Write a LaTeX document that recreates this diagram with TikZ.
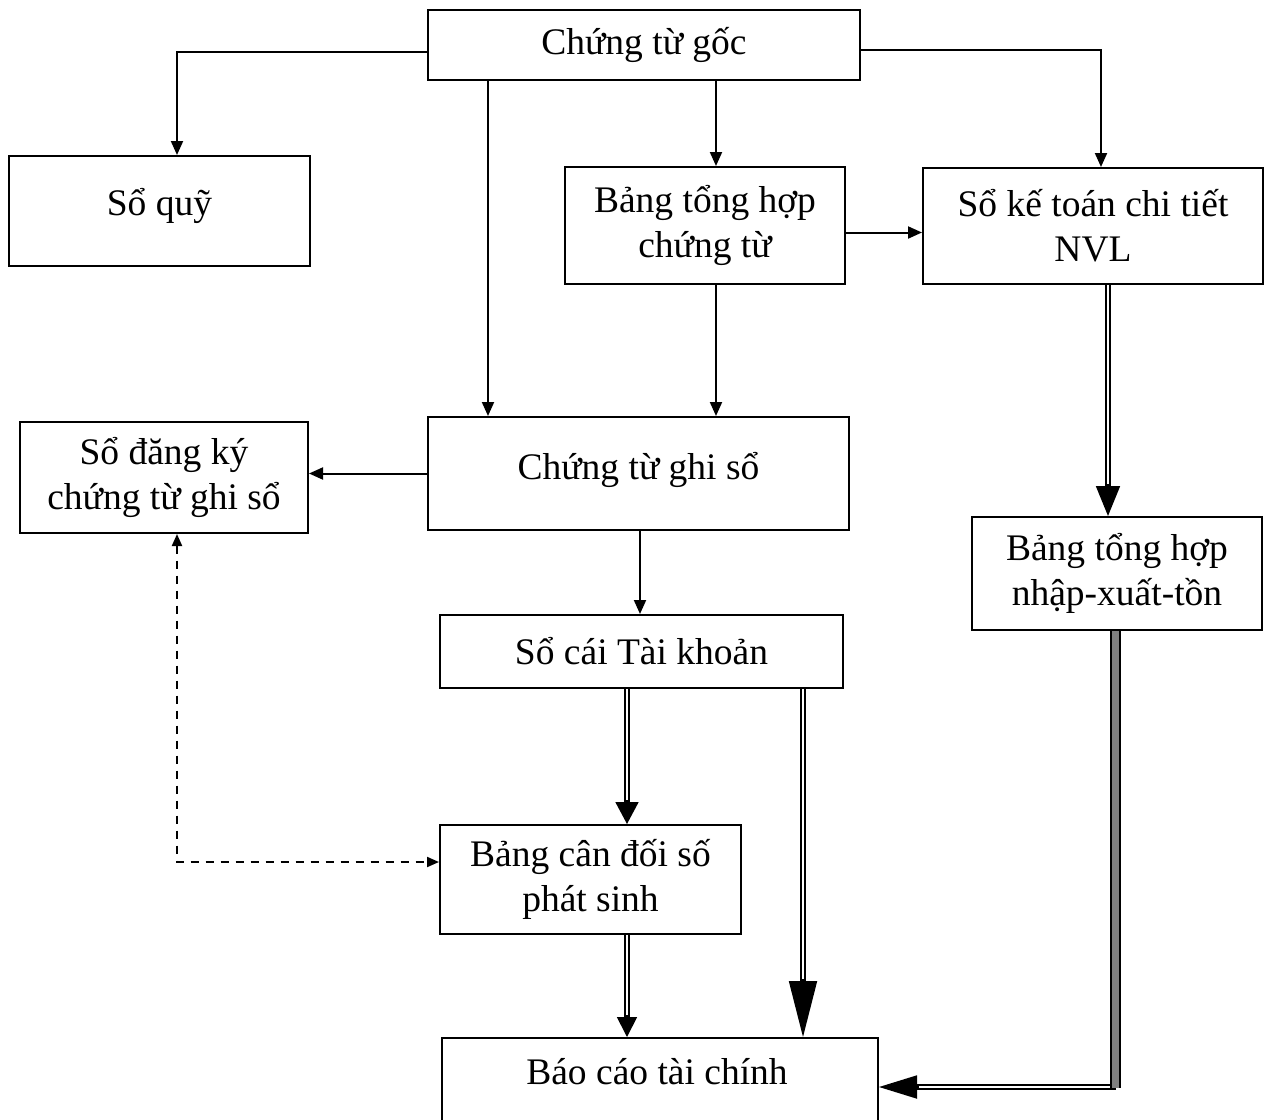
\documentclass[tikz,border=0pt]{standalone}
\usepackage{fontspec}
\setmainfont{Liberation Serif}
\usetikzlibrary{arrows.meta,calc}
\begin{document}
\begin{tikzpicture}[x=0.5pt,y=-0.5pt,
  box/.style={draw,line width=1pt,align=center,inner sep=0pt,
    font=\fontsize{18.75}{22.5}\selectfont},
  sz/.style 2 args={minimum width=#1*0.5pt,minimum height=#2*0.5pt},
  flow/.style={line width=1pt,-{Triangle[length=7pt,width=6pt]}},
  dashflow/.style={line width=1pt,dash pattern=on 4pt off 3.5pt,
    {Triangle[length=6pt,width=5pt]}-{Triangle[length=6pt,width=5pt]}},
  dbl/.style={double,double distance=1.2pt,line width=0.9pt},
  head/.style={line width=0.9pt},
  grayband/.style={line width=1pt,double={rgb,255:red,128;green,128;blue,128},double distance=3.5pt},
]
\useasboundingbox (0,0) rectangle (1271,1120);

% boxes
\node[box,sz={432}{70}]  (goc)   at (644,45)     {Chứng từ gốc};
\node[box,sz={301}{110}] (quy)   at (159.5,211)  {\raisebox{9pt}{Sổ quỹ}};
\node[box,sz={280}{117}] (bth)   at (705,225.5)  {Bảng tổng hợp\\chứng từ};
\node[box,sz={340}{116}] (nvl)   at (1093,226)   {Sổ kế toán chi tiết\\NVL};
\node[box,sz={288}{111}] (dk)    at (164,477.5)  {Sổ đăng ký\\chứng từ ghi sổ};
\node[box,sz={421}{113}] (ghiso) at (638.5,473.5) {\raisebox{8pt}{Chứng từ ghi sổ}};
\node[box,sz={290}{113}] (nxt)   at (1117,573.5) {Bảng tổng hợp\\nhập-xuất-tồn};
\node[box,sz={403}{73}]  (socai) at (641.5,651.5) {Sổ cái Tài khoản};
\node[box,sz={301}{109}] (cdps)  at (590.5,879.5) {Bảng cân đối số\\phát sinh};
\node[box,sz={436}{90}]  (bctc)  at (660,1083)   {};
\node[font=\fontsize{18.75}{22.5}\selectfont,inner sep=0pt] (bctct) at (657,1072) {Báo cáo tài chính};

% single-line flows
\coordinate (gL) at ($(goc.west)+(0,7)$);
\coordinate (qT) at ($(quy.north)+(17.5,0)$);
\draw[flow] (gL) -| (qT);
\coordinate (gR) at ($(goc.east)+(0,5)$);
\coordinate (nT) at ($(nvl.north)+(8,0)$);
\draw[flow] (gR) -| (nT);
\coordinate (g1) at ($(goc.south west)+(61,0)$);
\draw[flow] (g1) -- (g1 |- ghiso.north);
\coordinate (g2) at ($(goc.south)+(72,0)$);
\draw[flow] (g2) -- (g2 |- bth.north);
\coordinate (bR) at ($(bth.east)+(0,7)$);
\draw[flow] (bR) -- (bR -| nvl.west);
\coordinate (bB) at ($(bth.south)+(11,0)$);
\draw[flow] (bB) -- (bB |- ghiso.north);
\draw[flow] (ghiso.west) -- (ghiso.west -| dk.east);
\coordinate (cB) at ($(ghiso.south)+(1.5,0)$);
\draw[flow] (cB) -- (cB |- socai.north);

% dashed link between the register and the trial balance
\coordinate (dB) at ($(dk.south)+(13,0)$);
\coordinate (cL) at ($(cdps.west)+(0,-17.5)$);
\draw[dashflow] (dB) |- (cL);

% double-line flows
\coordinate (n1) at ($(nvl.south)+(15,0)$);
\coordinate (n2) at (n1 |- nxt.north);
\draw[dbl,shorten >=14pt] (n1) -- (n2);
\draw[head,-{Triangle[length=15pt,width=12pt]}] ($(n2)+(0,-32)$) -- (n2);

\coordinate (s1) at ($(socai.south)+(-14.5,0)$);
\coordinate (s2) at (s1 |- cdps.north);
\draw[dbl,shorten >=10pt] (s1) -- (s2);
\draw[head,-{Triangle[length=11pt,width=11.5pt]}] ($(s2)+(0,-24)$) -- (s2);

\coordinate (s3) at ($(socai.south)+(161.5,0)$);
\coordinate (s4) at (s3 |- bctc.north);
\draw[dbl,shorten >=27pt] (s3) -- (s4);
\draw[head,-{Triangle[length=28pt,width=14pt]}] ($(s4)+(0,-58)$) -- (s4);

\coordinate (p1) at ($(cdps.south)+(36.5,0)$);
\coordinate (p2) at (p1 |- bctc.north);
\draw[dbl,shorten >=9pt] (p1) -- (p2);
\draw[head,-{Triangle[length=10pt,width=10pt]}] ($(p2)+(0,-22)$) -- (p2);

% inventory summary to the financial statements
\coordinate (x1) at ($(nxt.south)+(-1.5,0)$);
\coordinate (x2) at (x1 |- 0,1087);
\coordinate (x3) at (x2 -| bctc.east);
\draw[dbl,shorten >=18pt] (x2) -- (x3);
\draw[head,-{Triangle[length=19pt,width=11.5pt]}] ($(x3)+(40,0)$) -- (x3);
\draw[grayband] (x1) -- ($(x2)+(0,1)$);
\end{tikzpicture}
\end{document}
